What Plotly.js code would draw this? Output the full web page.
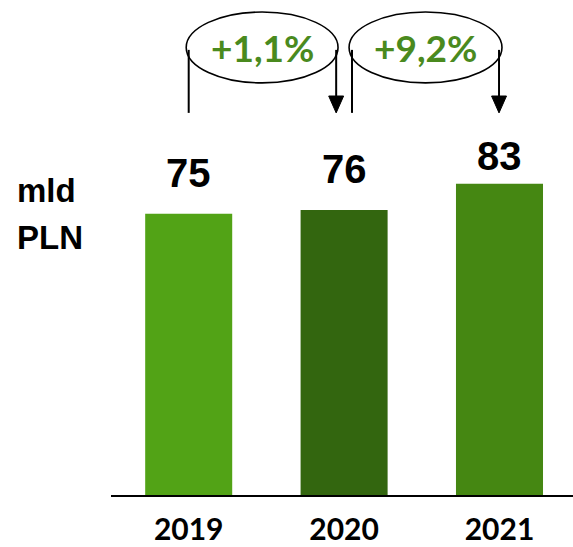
<!DOCTYPE html>
<html>
<head>
<meta charset="utf-8">
<script src="https://cdn.plot.ly/plotly-3.0.1.min.js"></script>
<style>html,body{margin:0;padding:0;background:#fff;}#chart{width:573px;height:547px;}</style>
</head>
<body>
<div id="chart"></div>
<script>
const years = ['2019', '2020', '2021'];
const values = [75, 76, 83];
const valueLabels = ['75', '76', '83'];
const barColors = ['#52a316', '#33660f', '#458712'];
const changeLabels = ['+1,1%', '+9,2%'];
const unitLabel = ['mld', 'PLN'];

const labelShift = [41, 41, 28];

const trace = {
  type: 'bar',
  x: [0, 1, 2],
  y: values,
  marker: {color: barColors},
  hoverinfo: 'skip'
};

const annotations = [];
values.forEach((v, i) => {
  annotations.push({
    x: i, y: v, xref: 'x', yref: 'y', text: valueLabels[i], showarrow: false,
    yanchor: 'middle', yshift: labelShift[i],
    font: {family: 'Liberation Sans, Arial', size: 40, color: '#000', weight: 'bold'}
  });
});
annotations.push({xref: 'paper', yref: 'y', x: -0.207, y: values[0] + 6.3, xanchor: 'left', yanchor: 'middle',
  text: '<b>' + unitLabel[0] + '</b>', showarrow: false, font: {family: 'Liberation Sans, Arial', size: 33, color: '#000'}});
annotations.push({xref: 'paper', yref: 'y', x: -0.207, y: values[0] - 6.3, xanchor: 'left', yanchor: 'middle',
  text: '<b>' + unitLabel[1] + '</b>', showarrow: false, font: {family: 'Liberation Sans, Arial', size: 33, color: '#000'}});

const shapes = [];
const ellY0 = 109.9, ellY1 = 128.8, ellMid = (ellY0 + ellY1) / 2;
const lineTop = 118.7, tipY = 101.9, headTop = 106.4, headHalf = 0.048;
changeLabels.forEach((t, i) => {
  const a = i === 0 ? -0.016 : 1.032;
  const b = i === 0 ? 0.961 : 2.016;
  const left = i === 0 ? 0 : 1.051;
  const right = i === 0 ? 0.949 : 1.997;
  shapes.push({type: 'circle', xref: 'x', yref: 'y', x0: a, x1: b, y0: ellY0, y1: ellY1,
    line: {color: '#000', width: 1.6}, fillcolor: 'rgba(0,0,0,0)'});
  shapes.push({type: 'line', xref: 'x', yref: 'y', x0: left, x1: left, y0: lineTop, y1: tipY,
    line: {color: '#000', width: 2}});
  shapes.push({type: 'line', xref: 'x', yref: 'y', x0: right, x1: right, y0: lineTop, y1: headTop,
    line: {color: '#000', width: 2}});
  shapes.push({type: 'path', xref: 'x', yref: 'y',
    path: `M ${right - headHalf} ${headTop} L ${right + headHalf} ${headTop} L ${right} ${tipY} Z`,
    fillcolor: '#000', line: {color: '#000', width: 1}});
  annotations.push({xref: 'x', yref: 'y', x: (a + b) / 2, y: ellMid, text: '<b>' + t + '</b>', showarrow: false,
    xanchor: 'center', yanchor: 'middle',
    font: {family: 'Lato, Open Sans', size: 37, color: '#4a8a1e'}});
});

const layout = {
  width: 573, height: 547,
  margin: {l: 111, r: 0, t: 0, b: 52},
  paper_bgcolor: '#fff', plot_bgcolor: '#fff',
  bargap: 0.44,
  showlegend: false,
  xaxis: {
    range: [-0.5, 2.473], tickmode: 'array', tickvals: [0, 1, 2], ticktext: years,
    showline: true, linecolor: '#000', linewidth: 1.5, showgrid: false, zeroline: false,
    ticks: 'outside', ticklen: 7, tickcolor: 'rgba(0,0,0,0)',
    tickfont: {family: 'Lato, Open Sans', size: 30, color: '#000', weight: 'bold'},
    fixedrange: true
  },
  yaxis: {range: [0, 132], visible: false, showgrid: false, zeroline: false, fixedrange: true},
  shapes: shapes,
  annotations: annotations
};

Plotly.newPlot('chart', [trace], layout, {displayModeBar: false, staticPlot: true});
</script>
</body>
</html>
